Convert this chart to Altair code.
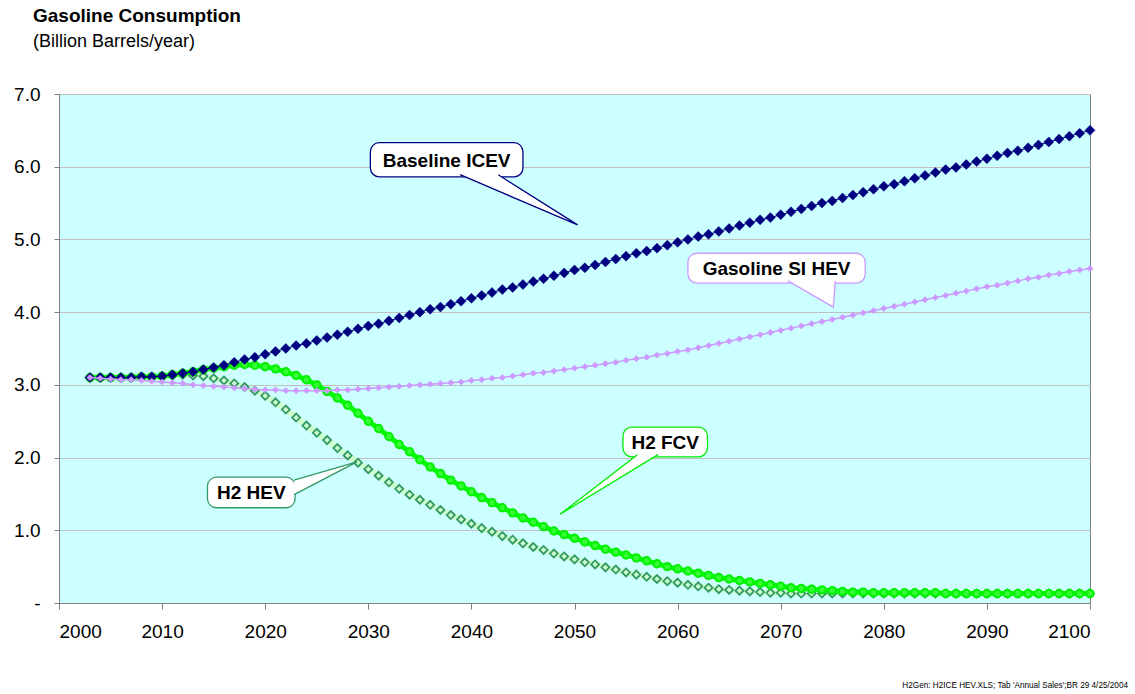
import altair as alt
import pandas as pd

# Annual gasoline consumption, billion barrels per year, 2003-2100
years = list(range(2003, 2101))

baseline_icev = [
    3.10, 3.10, 3.10, 3.10, 3.10, 3.11, 3.11, 3.12, 3.14, 3.16,
    3.18, 3.21, 3.24, 3.27, 3.31, 3.35, 3.38, 3.42, 3.46, 3.50,
    3.54, 3.57, 3.61, 3.65, 3.69, 3.73, 3.77, 3.81, 3.84, 3.88,
    3.92, 3.96, 4.00, 4.04, 4.07, 4.11, 4.15, 4.19, 4.23, 4.27,
    4.31, 4.34, 4.38, 4.42, 4.46, 4.50, 4.54, 4.58, 4.61, 4.65,
    4.69, 4.73, 4.77, 4.81, 4.84, 4.88, 4.92, 4.96, 5.00, 5.04,
    5.07, 5.11, 5.15, 5.19, 5.23, 5.27, 5.30, 5.34, 5.38, 5.42,
    5.46, 5.50, 5.53, 5.57, 5.61, 5.65, 5.69, 5.73, 5.76, 5.80,
    5.84, 5.88, 5.92, 5.96, 5.99, 6.03, 6.07, 6.11, 6.15, 6.19,
    6.22, 6.26, 6.30, 6.34, 6.38, 6.42, 6.46, 6.50,
]

gasoline_si_hev = [
    3.10, 3.09, 3.08, 3.07, 3.07, 3.06, 3.05, 3.04, 3.03, 3.02,
    3.00, 2.99, 2.98, 2.97, 2.96, 2.95, 2.94, 2.93, 2.93, 2.92,
    2.92, 2.92, 2.92, 2.92, 2.93, 2.93, 2.94, 2.95, 2.96, 2.97,
    2.98, 2.99, 3.00, 3.01, 3.02, 3.03, 3.04, 3.06, 3.07, 3.09,
    3.10, 3.12, 3.14, 3.16, 3.17, 3.19, 3.21, 3.23, 3.25, 3.27,
    3.29, 3.31, 3.34, 3.36, 3.38, 3.41, 3.43, 3.46, 3.48, 3.51,
    3.54, 3.57, 3.60, 3.63, 3.66, 3.69, 3.72, 3.75, 3.78, 3.81,
    3.84, 3.87, 3.90, 3.93, 3.96, 3.99, 4.02, 4.05, 4.08, 4.11,
    4.14, 4.17, 4.20, 4.23, 4.26, 4.29, 4.32, 4.35, 4.37, 4.40,
    4.43, 4.46, 4.48, 4.51, 4.53, 4.56, 4.58, 4.60,
]

h2_fcv = [
    3.10, 3.10, 3.10, 3.10, 3.10, 3.11, 3.11, 3.12, 3.14, 3.16,
    3.18, 3.21, 3.23, 3.25, 3.27, 3.28, 3.27, 3.25, 3.22, 3.18,
    3.13, 3.07, 3.00, 2.91, 2.82, 2.72, 2.61, 2.50, 2.40, 2.29,
    2.18, 2.08, 1.97, 1.87, 1.78, 1.69, 1.61, 1.53, 1.45, 1.38,
    1.31, 1.24, 1.17, 1.11, 1.05, 0.99, 0.94, 0.89, 0.84, 0.79,
    0.74, 0.70, 0.66, 0.62, 0.58, 0.54, 0.50, 0.47, 0.44, 0.41,
    0.38, 0.35, 0.33, 0.31, 0.29, 0.27, 0.25, 0.23, 0.21, 0.20,
    0.19, 0.18, 0.17, 0.16, 0.15, 0.15, 0.14, 0.14, 0.14, 0.14,
    0.14, 0.14, 0.14, 0.13, 0.13, 0.13, 0.13, 0.13, 0.13, 0.13,
    0.13, 0.13, 0.13, 0.13, 0.13, 0.13, 0.13, 0.13,
]

h2_hev = [
    3.10, 3.10, 3.10, 3.10, 3.10, 3.10, 3.11, 3.12, 3.13, 3.14,
    3.13, 3.12, 3.09, 3.06, 3.02, 2.97, 2.92, 2.85, 2.76, 2.66,
    2.55, 2.44, 2.34, 2.24, 2.13, 2.03, 1.93, 1.84, 1.75, 1.66,
    1.57, 1.49, 1.42, 1.35, 1.28, 1.21, 1.15, 1.09, 1.03, 0.98,
    0.92, 0.87, 0.82, 0.77, 0.73, 0.68, 0.64, 0.60, 0.56, 0.53,
    0.49, 0.46, 0.42, 0.39, 0.36, 0.33, 0.30, 0.28, 0.25, 0.23,
    0.21, 0.19, 0.18, 0.17, 0.16, 0.15, 0.14, 0.14, 0.13, 0.13,
    0.13, 0.13, 0.13, 0.13, 0.13, 0.13, 0.13, 0.13, 0.13, 0.13,
    0.13, 0.13, 0.13, 0.13, 0.13, 0.13, 0.13, 0.13, 0.13, 0.13,
    0.13, 0.13, 0.13, 0.13, 0.13, 0.13, 0.13, 0.13,
]

x_ticks = list(range(2000, 2101, 10))
y_ticks = [0, 1, 2, 3, 4, 5, 6, 7]

FONT = "Liberation Sans"

# Callout balloons (box corners, wedge base points and tip, in data units)
callouts = [
    dict(label="Baseline ICEV", color="#000080",
         box=(2030.2, 2045.0, 5.86, 6.33),
         base=[(2038.9, 5.89), (2042.6, 5.89)], tip=(2050.3, 5.20)),
    dict(label="Gasoline SI HEV", color="#cc99ff",
         box=(2061.0, 2078.2, 4.40, 4.81),
         base=[(2070.7, 4.43), (2075.3, 4.43)], tip=(2075.1, 4.07)),
    dict(label="H2 FCV", color="#00ee00",
         box=(2054.7, 2062.9, 2.01, 2.42),
         base=[(2056.1, 2.04), (2058.1, 2.04)], tip=(2048.6, 1.22)),
    dict(label="H2 HEV", color="#339966",
         box=(2014.4, 2022.9, 1.31, 1.73),
         base=[(2022.8, 1.69), (2022.8, 1.49)], tip=(2028.9, 1.94)),
]

series = pd.DataFrame({
    "year": years * 4,
    "value": baseline_icev + gasoline_si_hev + h2_fcv + h2_hev,
    "series": (["Baseline ICEV"] * len(years) + ["Gasoline SI HEV"] * len(years)
               + ["H2 FCV"] * len(years) + ["H2 HEV"] * len(years)),
})

x_scale = alt.Scale(domain=[2000, 2100], nice=False, zero=False)
y_scale = alt.Scale(domain=[0, 7], nice=False)

x_axis = alt.Axis(values=x_ticks, format="d", title=None, grid=False,
                  tickSize=6, labelPadding=13, labelFontSize=19)
y_axis = alt.Axis(values=y_ticks, title=None, grid=True, tickSize=5,
                  labelPadding=14, labelFontSize=19,
                  labelExpr="datum.value == 0 ? '-\u00a0\u00a0\u00a0\u00a0\u00a0' : format(datum.value, '.1f')")


def series_layers(name, line_color, line_width, shape, size, fill, stroke, stroke_width):
    base = alt.Chart(series).transform_filter(alt.datum.series == name)
    enc = dict(x=alt.X("year:Q", scale=x_scale, axis=x_axis),
               y=alt.Y("value:Q", scale=y_scale, axis=y_axis))
    line = base.mark_line(color=line_color, strokeWidth=line_width).encode(**enc)
    pts = base.mark_point(shape=shape, size=size, filled=True, fill=fill,
                          stroke=stroke, strokeWidth=stroke_width,
                          opacity=1).encode(**enc)
    return [line, pts]


layers = []
layers += series_layers("H2 HEV", "#ccffcc", 6, "diamond", 64, "#ccffcc", "#339966", 1.8)
layers += series_layers("H2 FCV", "#00ff00", 5, "circle", 55, "#33ff33", "#00f000", 2)
layers += series_layers("Baseline ICEV", "#000080", 1, "diamond", 100, "#000080", "#000080", 0.5)
layers += series_layers("Gasoline SI HEV", "#cc99ff", 1.5, "diamond", 40, "#cc99ff", "#cc99ff", 0.5)

# Callout geometry tables
box_rows, wedge_rows, edge_rows = [], [], []
for c in callouts:
    x0, x1, y0, y1 = c["box"]
    box_rows.append(dict(label=c["label"], x0=x0, x1=x1, y0=y0, y1=y1,
                         cx=(x0 + x1) / 2, cy=(y0 + y1) / 2))
    pts = sorted(c["base"] + [c["tip"]], key=lambda p: p[0])
    (ax, ay), (bx, by), (cx_, cy_) = pts
    if ax == bx:
        wedge_rows += [dict(label=c["label"], x=ax, y=ay, y2=by),
                       dict(label=c["label"], x=cx_, y=cy_, y2=cy_)]
    elif bx == cx_:
        wedge_rows += [dict(label=c["label"], x=ax, y=ay, y2=ay),
                       dict(label=c["label"], x=bx, y=by, y2=cy_)]
    else:
        mid = ay + (cy_ - ay) * (bx - ax) / (cx_ - ax)
        wedge_rows += [dict(label=c["label"], x=ax, y=ay, y2=ay),
                       dict(label=c["label"], x=bx, y=by, y2=mid),
                       dict(label=c["label"], x=cx_, y=cy_, y2=cy_)]
    b1, b2 = c["base"]
    for i, p in enumerate([b1, c["tip"], b2]):
        edge_rows.append(dict(label=c["label"], x=p[0], y=p[1], k=i))

labels = [c["label"] for c in callouts]
colors = [c["color"] for c in callouts]
col_scale = alt.Scale(domain=labels, range=colors)

boxes = alt.Chart(pd.DataFrame(box_rows)).mark_rect(
    cornerRadius=9, fill="white", strokeWidth=1.3
).encode(
    x=alt.X("x0:Q", scale=x_scale), x2="x1:Q",
    y=alt.Y("y0:Q", scale=y_scale), y2="y1:Q",
    stroke=alt.Color("label:N", scale=col_scale, legend=None),
)

wedges = alt.Chart(pd.DataFrame(wedge_rows)).mark_area(
    color="white", opacity=1, interpolate="linear"
).encode(
    x=alt.X("x:Q", scale=x_scale), y=alt.Y("y:Q", scale=y_scale), y2="y2:Q",
    detail="label:N",
)

edges = alt.Chart(pd.DataFrame(edge_rows)).mark_line(strokeWidth=1.3).encode(
    x=alt.X("x:Q", scale=x_scale), y=alt.Y("y:Q", scale=y_scale),
    order="k:Q",
    color=alt.Color("label:N", scale=col_scale, legend=None),
)

box_text = alt.Chart(pd.DataFrame(box_rows)).mark_text(
    font=FONT, fontSize=19, fontWeight="bold", color="black", dy=1
).encode(
    x=alt.X("cx:Q", scale=x_scale), y=alt.Y("cy:Q", scale=y_scale), text="label:N",
)

one = pd.DataFrame({"t": [0]})
title = alt.Chart(one).mark_text(
    text="Gasoline Consumption", font=FONT, fontSize=19, fontWeight="bold",
    align="left", baseline="alphabetic", color="black"
).encode(x=alt.value(-26), y=alt.value(-72))
subtitle = alt.Chart(one).mark_text(
    text="(Billion Barrels/year)", font=FONT, fontSize=18,
    align="left", baseline="alphabetic", color="black"
).encode(x=alt.value(-26), y=alt.value(-47))
source = alt.Chart(one).mark_text(
    text="H2Gen: H2ICE HEV.XLS; Tab 'Annual Sales';BR 29  4/25/2004",
    font=FONT, fontSize=8.2, align="right", baseline="alphabetic", color="black"
).encode(x=alt.value(1069), y=alt.value(594))

chart = alt.layer(
    *layers, boxes, wedges, edges, box_text, title, subtitle, source
).resolve_scale(color="independent").properties(
    width=1031, height=509,
    autosize=alt.AutoSizeParams(type="none"),
    padding={"left": 59, "top": 94, "right": 45, "bottom": 91},
    background="white",
).configure_view(
    fill="#ccffff", stroke="#808080", strokeWidth=1
).configure_axis(
    domainColor="#808080", tickColor="#808080", gridColor="#c0c0c0",
    labelFont=FONT, labelColor="black", domainWidth=1,
)

chart.save("out.html", embed_options={"renderer": "svg", "actions": False})
